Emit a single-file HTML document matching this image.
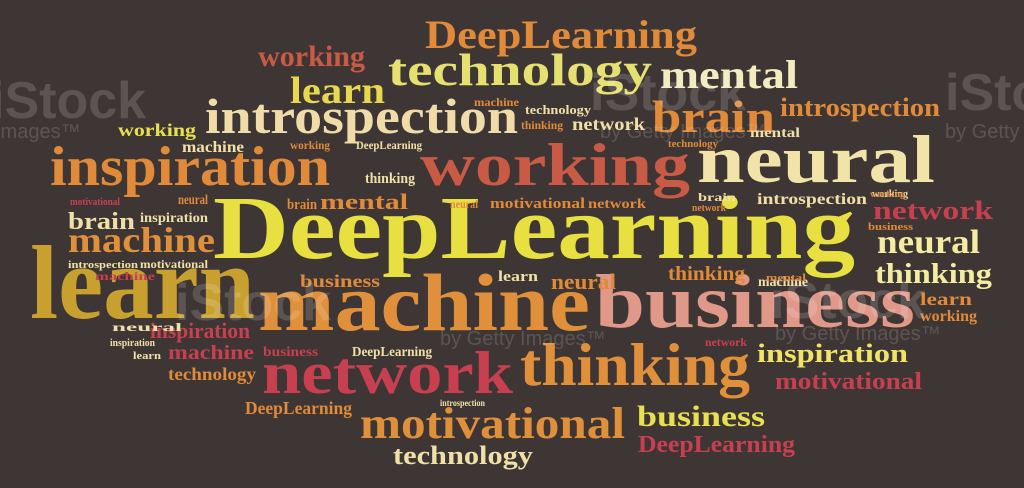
<!DOCTYPE html>
<html><head><meta charset="utf-8">
<style>
html,body{margin:0;padding:0;background:#3e3634;}
svg{display:block;}
text{font-family:"Liberation Serif",serif;font-weight:bold;}
.wm{font-family:"Liberation Sans",sans-serif;font-weight:bold;fill:#ffffff;opacity:0.15;}
.wm2{font-family:"Liberation Sans",sans-serif;font-weight:normal;fill:#ffffff;opacity:0.15;}
</style></head>
<body>
<svg id="cloud" width="1024" height="488" viewBox="0 0 1024 488" xmlns="http://www.w3.org/2000/svg">
<rect width="1024" height="488" fill="#3e3634"/>
<g id="words"></g>
<g>
<text class="wm" x="-10" y="118" font-size="52">iStock</text>
<text class="wm2" x="-5" y="138" font-size="20">Images™</text>
<text class="wm" x="590" y="110" font-size="52">iStock</text>
<text class="wm2" x="600" y="138" font-size="20">by Getty Images™</text>
<text class="wm" x="945" y="110" font-size="52">iStock</text>
<text class="wm2" x="945" y="138" font-size="20">by Getty</text>
<text class="wm" x="175" y="320" font-size="52">iStock</text>
<text class="wm2" x="440" y="345" font-size="20">by Getty Images™</text>
<text class="wm" x="770" y="318" font-size="52">iStock</text>
<text class="wm2" x="775" y="340" font-size="20">by Getty Images™</text>
</g>
</svg>
<script>
var O="#e08a3a",C="#f0e0a8",Y="#e8e050",R="#c84050",S="#e09888",RED="#c85a46";
var words=["DeepLearning","working","technology","mental","learn","introspection","brain","introspection","working","neural","working","inspiration","DeepLearning","learn","machine","business","network","thinking","motivational","business","DeepLearning","technology","machine","brain","network","neural","thinking","learn","inspiration","motivational","mental","inspiration","neural","introspection","motivational","inspiration","machine","technology","business","DeepLearning","DeepLearning","business","thinking","network","thinking","machine","technology","machine","brain","neural","learn","thinking","introspection","neural","motivational","network","working","working","network","working","DeepLearning","technology","mental","learn","inspiration","motivational","brain","network","introspection","machine","mental","business","working","neural","machine"];
var xs=[425,258,388,660,290,205,652,780,118,697,420,50,213,30,258,595,262,520,360,637,638,393,68,68,873,877,875,920,757,775,320,140,178,68,140,150,168,168,263,352,245,300,365,572,521,474,525,182,287,551,498,668,757,450,490,588,872,920,705,290,356,668,750,133,110,70,698,692,440,758,766,868,870,112,95];
var ys=[48,66,85,88,103,133,132,116,136,182,185,185,258,318,330,327,393,385,438,426,452,464,252,229,219,253,283,305,362,389,209,222,204,268,268,338,359,380,356,356,414,287,183,130,129,106,114,152,209,289,281,280,204,208,208,208,197,321,346,149,149,147,137,359,346,205,201,211,406,286,281,230,197,331,280];
var ws=[272,107,264,138,95,313,123,160,78,238,270,280,642,225,332,320,251,230,265,128,157,140,147,67,120,103,117,52,151,147,88,68,30,70,68,100,86,88,55,80,107,80,50,73,42,45,66,62,30,65,40,77,110,28,95,58,36,57,42,40,66,50,50,28,45,50,38,34,45,50,40,45,35,70,60];
var fs=[40,30,46,40,38,50,46,26,18,68,60,56,90,105,82,76,60,60,44,30,24,26,36,24,26,34,28,18,26,24,22,14,14,11,12,22,20,18,14,14,18,18,15,18,12,12,13,16,15,22,15,20,16,12,15,14,10,16,12,12,12,11,14,11,11,11,12,11,9,14,10,10,9,12,12];
var cs=[O,RED,"#e6e070","#f2ecc0","#e8d850","#f0dca8",O,O,Y,"#f2e4a8",RED,O,"#e8e040","#c8a030","#e0903a",S,R,"#e0903a","#e0903a",Y,R,C,"#e0903a",C,R,"#f4eca0","#f4eca0",O,"#f0e468",R,O,C,O,C,C,R,R,O,R,C,O,O,C,C,O,O,C,C,O,O,C,O,C,O,O,O,C,O,R,O,C,O,C,C,C,R,C,O,C,C,O,O,O,C,R];
var g=document.getElementById('words');
for(var i=0;i<words.length;i++){
  var t=document.createElementNS('http://www.w3.org/2000/svg','text');
  t.setAttribute('x',xs[i]);t.setAttribute('y',ys[i]);
  t.setAttribute('font-size',fs[i]);t.setAttribute('fill',cs[i]);
  t.setAttribute('textLength',ws[i]);t.setAttribute('lengthAdjust','spacingAndGlyphs');
  
  
  t.textContent=words[i];
  g.appendChild(t);
}
</script>
</body></html>
